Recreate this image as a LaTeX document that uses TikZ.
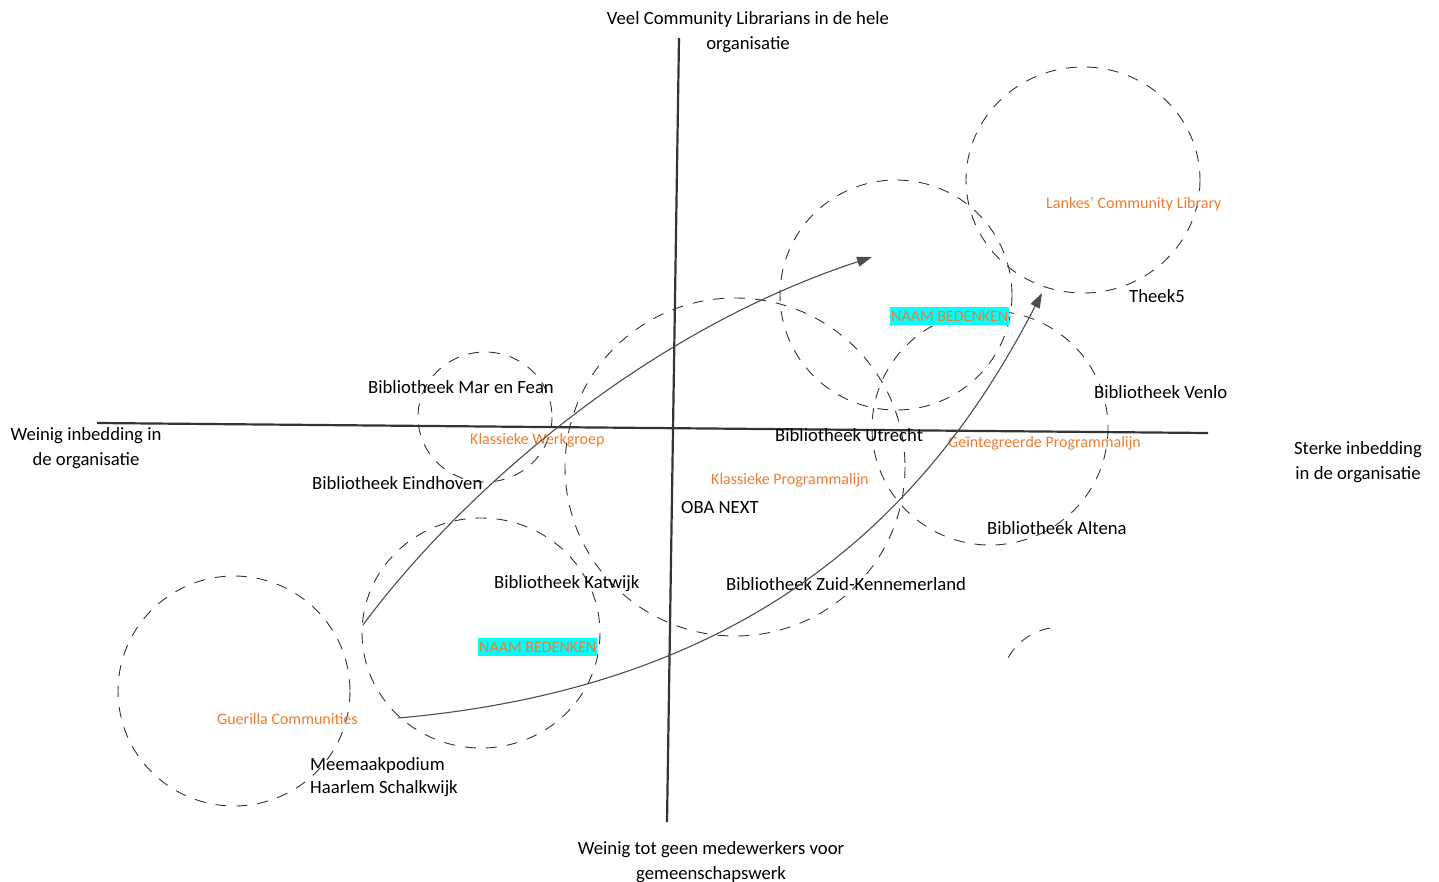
\documentclass[tikz,border=0pt]{standalone}
\usepackage{fontspec}
\setmainfont{Carlito}
\usetikzlibrary{arrows.meta}
\definecolor{labelorange}{RGB}{237,125,49}
\definecolor{markcyan}{RGB}{0,255,255}
\tikzset{
  group/.style={draw=black!80, line width=0.9pt, dash pattern=on 11pt off 10pt},
  axisline/.style={draw=black!80, line width=2.2pt},
  flow/.style={draw=black!70, line width=1.1pt, -{Triangle[length=15pt,width=10pt]}},
  lib/.style={anchor=west, font=\fontsize{18.7}{22}\selectfont, inner sep=0pt},
  kind/.style={anchor=west, text=labelorange, font=\fontsize{16}{19}\selectfont, inner sep=0pt},
  axislabel/.style={align=center, font=\fontsize{18.7}{24.5}\selectfont, inner sep=0pt},
  tbd/.style={kind, fill=markcyan, inner xsep=1pt, inner ysep=3.5pt}
}
\begin{document}
\begin{tikzpicture}[x=1pt,y=-1pt]
            \useasboundingbox (0,0) rectangle (1439,881);

            % Define axes
            \coordinate (west) at (97,423);
            \coordinate (east) at (1208,433);
            \coordinate (north) at (679,38);
            \coordinate (south) at (667,822);
            \draw[axisline] (west) -- (east);
            \draw[axisline] (north) -- (south);

            % Axis labels
            \node[axislabel] (top) at (748,32) {Veel Community Librarians in de hele\\organisatie};
            \node[axislabel] (bottom) at (711,862) {Weinig tot geen medewerkers voor\\gemeenschapswerk};
            \node[axislabel] (left) at (86,448) {Weinig inbedding in\\de organisatie};
            \node[axislabel] (right) at (1358,462) {Sterke inbedding\\in de organisatie};

            % Draw groups
            \draw[group] (1083,180) ellipse (117 and 113);
            \draw[group] (896,295) ellipse (116 and 115);
            \draw[group] (990,428) ellipse (118 and 117);
            \draw[group] (735,467) ellipse (170 and 169);
            \draw[group] (485,417) ellipse (67 and 65);
            \draw[group] (481,633) ellipse (119 and 115);
            \draw[group] (234,691) ellipse (116 and 115);
            \draw[group] (1050,628) arc[start angle=-100, end angle=-160, radius=60];

            % Define nodes
            \node[kind] (lankes) at (1046,204) {Lankes’ Community Library};
            \node[lib] (theek) at (1129,296) {Theek5};
            \node[tbd] (tbdtop) at (890,316) {NAAM BEDENKEN};
            \node[lib] (venlo) at (1094,392) {Bibliotheek Venlo};
            \node[lib] (marfean) at (368,387) {Bibliotheek Mar en Fean};
            \node[kind] (werkgroep) at (470,440) {Klassieke Werkgroep};
            \node[lib] (utrecht) at (775,435) {Bibliotheek Utrecht};
            \node[kind] (geintegreerd) at (948,443) {Geïntegreerde Programmalijn};
            \node[kind] (programmalijn) at (711,480) {Klassieke Programmalijn};
            \node[lib] (eindhoven) at (312,483) {Bibliotheek Eindhoven};
            \node[lib] (oba) at (681,507) {OBA NEXT};
            \node[lib] (altena) at (987,528) {Bibliotheek Altena};
            \node[lib] (katwijk) at (494,584) {Bibliotheek Katwijk};
            \node[lib] (zuidkennemerland) at (726,584) {Bibliotheek Zuid-Kennemerland};
            \node[tbd] (tbdbottom) at (478,647) {NAAM BEDENKEN};
            \node[kind] (guerilla) at (217,719) {Guerilla Communities};
            \node[lib] (meemaak) at (310,766) {Meemaakpodium};
            \node[lib] (haarlem) at (310,789) {Haarlem Schalkwijk};

            % Draw arrows
            \coordinate (upstart) at (363,625);
            \coordinate (upend) at (872,257);
            \coordinate (lowstart) at (398,718);
            \coordinate (lowend) at (1042,293);
            \draw[flow] (upstart) .. controls (440,520) and (620,340) .. (upend);
            \draw[flow] (lowstart) .. controls (775,685) and (940,490) .. (lowend);

        \end{tikzpicture}
\end{document}
